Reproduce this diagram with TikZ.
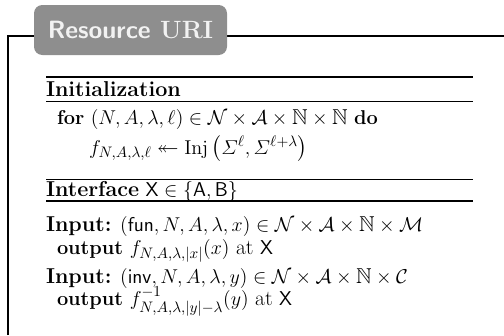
\documentclass[tikz,border=0pt]{standalone}
\usepackage{amsmath,amssymb}
\definecolor{titlegray}{HTML}{8E8E8E}
\definecolor{titletext}{HTML}{F2F2F2}
\tikzset{
  txt/.style={anchor=base west, inner sep=0pt, outer sep=0pt, font=\fontsize{15.5}{18}\selectfont},
  toprule/.style={line width=1.3pt, black},
  midrule/.style={line width=0.9pt, black},
  frameline/.style={line width=1.1pt, black},
}
\begin{document}
\begin{tikzpicture}[x=0.72pt, y=-0.72pt]
\useasboundingbox (0,0) rectangle (504,335);
% outer frame
\coordinate (fbl) at (8,335);
\coordinate (ftl) at (8,36);
\coordinate (ftr) at (504,36);
\draw[frameline] (fbl) -- (ftl) -- (ftr);
% title
\node[fill=titlegray, rounded corners=6pt, minimum width=193*0.72pt, minimum height=50*0.72pt, inner sep=0pt, text=titletext, font=\fontsize{18}{22}\selectfont\bfseries] (title) at (130.5,30) {\textsf{Resource} URI};
% Initialization
\coordinate (r1a) at (46,77); \coordinate (r1b) at (473,77);
\draw[toprule] (r1a) -- (r1b);
\node[txt] (init) at (46,96) {\textbf{Initialization}};
\coordinate (r2a) at (46,101.5); \coordinate (r2b) at (473,101.5);
\draw[midrule] (r2a) -- (r2b);
\node[txt] (for) at (57,124) {$\mathbf{for}\ (N,A,\lambda,\ell)\in\mathcal{N}\times\mathcal{A}\times\mathbb{N}\times\mathbb{N}\ \mathbf{do}$};
\node[txt] (samp) at (89,154) {$f_{N,A,\lambda,\ell}\twoheadleftarrow \mathrm{Inj}\left(\varSigma^{\ell},\varSigma^{\ell+\lambda}\right)$};
% Interface
\coordinate (r3a) at (46,179.5); \coordinate (r3b) at (473,179.5);
\draw[toprule] (r3a) -- (r3b);
\node[txt] (iface) at (46,196) {\textbf{Interface} $\mathsf{X}\in\{\mathsf{A},\mathsf{B}\}$};
\coordinate (r4a) at (46,201); \coordinate (r4b) at (473,201);
\draw[midrule] (r4a) -- (r4b);
\node[txt] (in1) at (46,231) {\textbf{Input:} $(\mathsf{fun},N,A,\lambda,x)\in\mathcal{N}\times\mathcal{A}\times\mathbb{N}\times\mathcal{M}$};
\node[txt] (out1) at (57,254) {$\mathbf{output}\ f_{N,A,\lambda,|x|}(x)$ at $\mathsf{X}$};
\node[txt] (in2) at (46,283) {\textbf{Input:} $(\mathsf{inv},N,A,\lambda,y)\in\mathcal{N}\times\mathcal{A}\times\mathbb{N}\times\mathcal{C}$};
\node[txt] (out2) at (57,305) {$\mathbf{output}\ f^{-1}_{N,A,\lambda,|y|-\lambda}(y)$ at $\mathsf{X}$};
\end{tikzpicture}
\end{document}
